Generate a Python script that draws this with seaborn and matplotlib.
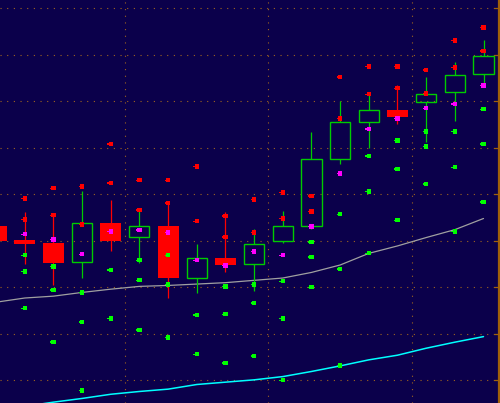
import numpy as np
import pandas as pd
import matplotlib
matplotlib.use("Agg")
import matplotlib.pyplot as plt
from matplotlib.path import Path
import seaborn as sns

# --- data (price units, one grid step = 1.0) ---
bar_open  = [13.32, 13.02, 12.95, 12.54, 13.38, 13.08, 13.32, 12.21, 12.63,
             12.50, 13.00, 13.31, 14.76, 15.56, 15.81, 15.99, 16.20, 16.58]
bar_close = [13.00, 12.94, 12.52, 13.38, 13.00, 13.31, 12.21, 12.62, 12.49,
             12.93, 13.31, 14.76, 15.56, 15.81, 15.66, 16.16, 16.57, 16.97]
bar_high  = [13.32, 13.62, 13.56, 14.07, 13.88, 13.66, 13.81, 12.93, 13.61,
             13.25, 13.64, 15.34, 16.01, 16.16, 16.35, 16.52, 16.85, 17.32]
bar_low   = [13.00, 12.51, 12.06, 12.19, 12.79, 12.53, 11.76, 11.88, 12.34,
             11.91, 12.96, 13.25, 14.65, 15.00, 15.51, 15.13, 15.58, 16.39]

# pivot levels per bar
res2  = [np.nan, 13.91, 14.13, 14.17, 15.08, 14.30, 14.30, 14.60, 13.53,
         13.89, 14.04, 13.96, 16.52, 16.75, 16.75, 16.67, 17.31, 17.59]
res1  = [np.nan, 13.46, 13.55, 13.35, 14.24, 13.66, 13.81, 13.42, 13.08,
         13.18, 13.48, 13.63, 15.63, 16.15, 16.28, 16.17, 16.73, 17.08]
pivot = [np.nan, 13.14, 13.03, 12.71, 13.20, 13.23, 13.18, 12.58, 12.47,
         12.77, 12.69, 13.31, 14.45, 15.40, 15.63, 15.85, 15.94, 16.34]
sup1  = [np.nan, 12.69, 12.45, 11.89, 12.37, 12.58, 12.69, 11.40, 12.02,
         12.06, 12.13, 12.97, 13.57, 14.82, 15.16, 15.35, 15.35, 15.83]
sup2  = [np.nan, 12.34, 11.94, 11.25, 11.33, 12.15, 12.06, 10.56, 11.42,
         11.66, 11.33, 12.65, 12.39, 14.06, 14.54, 15.03, 14.58, 15.08]
sup3  = [np.nan, 11.55, 10.82, 9.78, np.nan, 11.08, 10.92, np.nan, 10.37,
         10.52, 10.00, 12.00, 10.32, 12.73, 13.44, 14.22, 13.20, 13.83]

ma_short = [11.68, 11.77, 11.81, 11.89, 11.96, 12.02, 12.04, 12.07, 12.10,
            12.15, 12.20, 12.32, 12.48, 12.73, 12.89, 13.07, 13.24, 13.48]
ma_long  = [np.nan, 9.44, 9.53, 9.61, 9.70, 9.76, 9.81, 9.91, 9.96,
            10.01, 10.08, 10.19, 10.31, 10.44, 10.54, 10.69, 10.82, 10.94]

price_ticks = [10, 11, 12, 13, 14, 15, 16, 17, 18]
session_breaks = [4.5, 9.5, 14.5]

NAVY = "#0b004b"
GRID = "#a0641e"
UP = "#00cc00"
DOWN = "#ff0000"

sns.set_theme(style="dark", rc={"axes.facecolor": NAVY, "figure.facecolor": NAVY})

idx = np.arange(len(bar_open))
o = np.array(bar_open)
c = np.array(bar_close)
up = c >= o

fig = plt.figure(figsize=(5, 4.03), dpi=100)
ax = fig.add_axes([0, 0, 498.5 / 500, 1])

# moving averages
ma = pd.DataFrame({"idx": idx, "short": ma_short, "long": ma_long})
sns.lineplot(data=ma, x="idx", y="short", color="#a0a0a0", lw=0.9, ax=ax, zorder=2)
sns.lineplot(data=ma, x="idx", y="long", color="#00ffff", lw=1.1, ax=ax, zorder=2)

# wicks (not drawn through hollow bodies)
body_lo = np.minimum(o, c)
body_hi = np.maximum(o, c)
ax.vlines(idx[~up], np.array(bar_low)[~up], np.array(bar_high)[~up],
          color=DOWN, lw=0.9, zorder=3)
ax.vlines(idx[up], np.array(bar_low)[up], body_lo[up], color=UP, lw=0.9, zorder=3)
ax.vlines(idx[up], body_hi[up], np.array(bar_high)[up], color=UP, lw=0.9, zorder=3)

# bodies
ax.bar(idx[~up], (body_hi - body_lo)[~up], bottom=body_lo[~up], width=0.74,
       color=DOWN, linewidth=0, zorder=4)
ax.bar(idx[up], (body_hi - body_lo)[up], bottom=body_lo[up], width=0.70,
       fill=False, edgecolor=UP, linewidth=1.0, zorder=4)

# pivot dots
nub = Path([(-0.5, -0.5), (0.5, -0.5), (0.5, 0.5), (-0.5, 0.5), (-0.5, 0.17),
            (-0.8, 0.17), (-0.8, -0.17), (-0.5, -0.17), (-0.5, -0.5)], closed=True)
levels = {"r2": res2, "r1": res1, "pp": pivot, "s1": sup1, "s2": sup2, "s3": sup3}
dots = pd.concat([pd.DataFrame({"idx": idx, "level": v, "kind": k})
                  for k, v in levels.items()]).dropna()
palette = {"r2": "#ff0000", "r1": "#ff0000", "pp": "#ff00ff",
           "s1": "#00ff00", "s2": "#00ff00", "s3": "#00ff00"}
sns.scatterplot(data=dots, x="idx", y="level", hue="kind", palette=palette,
                marker=nub, s=24, linewidth=0, edgecolor="none",
                legend=False, ax=ax, zorder=5)

# axes styling
ax.set_xlim(0.136, 17.523)
ax.set_ylim(9.512, 18.179)
ax.set_xticks(session_breaks)
ax.set_yticks(price_ticks)
ax.set_xticklabels([])
ax.set_yticklabels([])
ax.set_xlabel("")
ax.set_ylabel("")
ax.grid(True, color=GRID, linestyle=(0, (1, 5)), linewidth=0.8, zorder=0)
ax.set_axisbelow(True)
for side in ["left", "top", "bottom"]:
    ax.spines[side].set_visible(False)
ax.spines["right"].set_visible(True)
ax.spines["right"].set_color("#a0600a")
ax.spines["right"].set_linewidth(1.6)
ax.yaxis.tick_right()
ax.tick_params(axis="y", which="both", right=True, left=False, direction="in",
               length=3.8, width=0.9, color="#a0600a", labelright=False)
ax.tick_params(axis="x", bottom=False, top=False, labelbottom=False)

fig.savefig("out.png", dpi=100, facecolor=NAVY)
